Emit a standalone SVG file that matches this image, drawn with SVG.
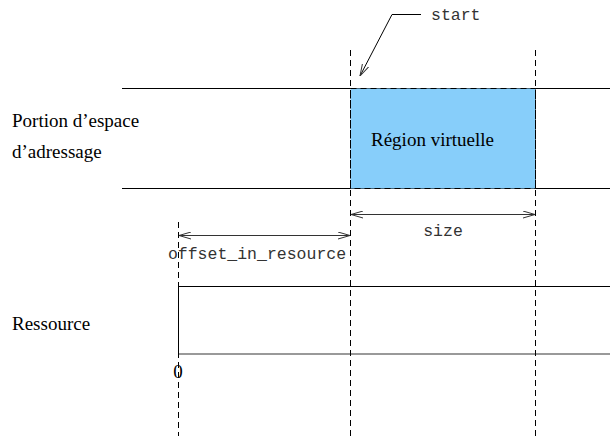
<svg xmlns="http://www.w3.org/2000/svg" width="610" height="436" viewBox="0 0 610 436">
<defs>
<style>
.solid{stroke:#000;stroke-width:1;fill:none}
.dash{stroke:#000;stroke-width:1;stroke-dasharray:6,4}
.dim{stroke:#333;stroke-width:1;fill:none;marker-start:url(#open);marker-end:url(#open)}
.serif{font-family:"Liberation Serif","Times New Roman",serif;font-size:19px;fill:#000}
.mono{font-family:"Liberation Mono","Courier New",monospace;font-size:16.5px;fill:#333}
</style>
<marker id="open" viewBox="0 0 12 8" refX="12" refY="4" markerWidth="12" markerHeight="8" orient="auto-start-reverse" markerUnits="userSpaceOnUse">
<path d="M0,0.5 L12,4 L0,7.5" fill="none" stroke="#333" stroke-width="1"/>
</marker>
</defs>

<!-- address space band -->
<g id="address-space">
<line class="solid" x1="122" y1="88.5" x2="610" y2="88.5"/>
<line class="solid" x1="122" y1="188.5" x2="610" y2="188.5"/>
<text class="serif" x="12" y="127">Portion d’espace</text>
<text class="serif" x="12" y="158">d’adressage</text>
</g>

<!-- virtual region -->
<g id="virtual-region">
<rect x="350.5" y="88.5" width="185" height="100" style="fill:#87cefa" class="dash"/>
<text class="serif" x="371" y="146">Région virtuelle</text>
</g>

<!-- resource -->
<g id="resource">
<path class="solid" d="M610,286.5 H178.5 V354"/>
<line x1="178" y1="354" x2="610" y2="354" stroke="#777" stroke-width="1.5"/>
<text class="serif" x="12" y="330">Ressource</text>
<text class="serif" x="178" y="378" text-anchor="middle" font-size="15">0</text>
</g>

<!-- connectors -->
<g id="connectors">
<line class="dash" x1="350.5" y1="50" x2="350.5" y2="436"/>
<line class="dash" x1="535.5" y1="50" x2="535.5" y2="436"/>
<line class="dash" x1="178.5" y1="222" x2="178.5" y2="436"/>
<line class="dim" x1="351" y1="214.5" x2="535" y2="214.5"/>
<line class="dim" x1="179" y1="235.5" x2="350" y2="235.5"/>
<path class="solid" d="M421,14.5 H392 L360,76" marker-end="url(#open)"/>
</g>

<g id="labels">
<text class="mono" x="431" y="20">start</text>
<text class="mono" x="443" y="236" text-anchor="middle">size</text>
<text class="mono" x="257" y="259" text-anchor="middle">offset_in_resource</text>
</g>
</svg>
